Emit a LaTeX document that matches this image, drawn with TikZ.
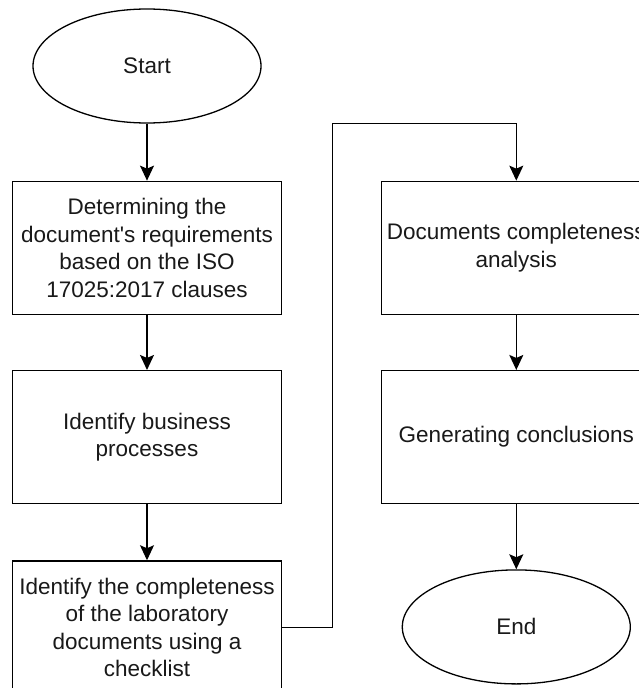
\documentclass[tikz,border=0pt]{standalone}
\usepackage{fontspec}
\setmainfont{Liberation Sans}
\usetikzlibrary{arrows.meta, positioning, shapes.geometric}
\tikzset{
  procbox/.style={rectangle, draw=black, line width=1.3pt, fill=white,
                  minimum width=269pt, minimum height=133pt,
                  font=\fontsize{22.5}{27.5}\selectfont, text=black!90, align=center},
  termnode/.style={ellipse, draw=black, line width=1.3pt, fill=white,
                   minimum width=228pt, minimum height=114pt,
                   font=\fontsize{22.5}{27.5}\selectfont, text=black!90, align=center},
  arr/.style={-{Stealth[length=15pt, width=14pt, inset=3pt]}, line width=1.3pt, color=black},
}

\begin{document}
\begin{tikzpicture}[x=1pt, y=1pt, node distance=55pt]
      \useasboundingbox (0,0) rectangle (639,-688);

      % Left column
      \node[termnode] (start) at (147,-66) {Start};
      \node[procbox, below=57pt of start] (req) {Determining the\\document\textquotesingle s requirements\\based on the ISO\\17025:2017 clauses};
      \node[procbox, below=of req] (biz) {Identify business\\processes};
      \node[procbox, below=56pt of biz] (check) {Identify the completeness\\of the laboratory\\documents using a\\checklist};

      % Right column
      \node[procbox, right=99pt of req] (analysis) {Documents completeness\\analysis};
      \node[procbox, right=99pt of biz] (concl) {Generating conclusions};
      \node[termnode, below=65pt of concl] (end) {End};

      % Bend points of the loop
      \coordinate[right=50pt of check.east] (loopx);
      \coordinate[above=57pt of analysis.north] (loopy);

      \draw[arr] (start) -- (req);
      \draw[arr] (req) -- (biz);
      \draw[arr] (biz) -- (check);
      \draw[arr] (check.east) -- (loopx) |- (loopy) -- (analysis.north);
      \draw[arr] (analysis) -- (concl);
      \draw[arr] (concl) -- (end);
    \end{tikzpicture}
\end{document}
